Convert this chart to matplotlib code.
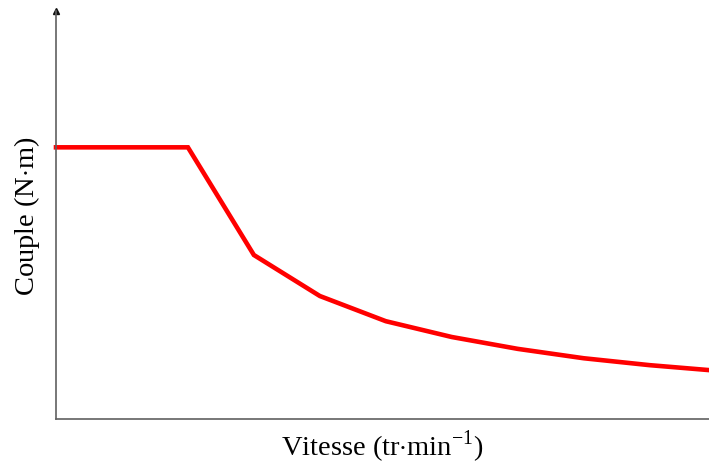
import numpy as np
import matplotlib
matplotlib.use("Agg")
import matplotlib.pyplot as plt

plt.rcParams['font.family'] = ['Liberation Serif', 'DejaVu Serif']
plt.rcParams['mathtext.fontset'] = 'custom'
plt.rcParams['mathtext.rm'] = 'Liberation Serif'

# speed (arbitrary units) vs torque (arbitrary units)
vitesse = [0, 2, 3, 4, 5, 6, 7, 8, 9, 9.9]
couple = [5.5, 5.5, 3.32, 2.49, 1.98, 1.66, 1.42, 1.23, 1.09, 0.99]

W, H = 709, 464
fig = plt.figure(figsize=(W/100, H/100), dpi=100)
ax = fig.add_axes([56/W, (H-420)/H, (W-56)/W, 408/H])

ax.plot(vitesse, couple, color="#ff0000", lw=3.3, solid_joinstyle="miter", clip_on=False)
ax.set_xlim(0, 9.9)
ax.set_ylim(0, 8.26)

for s in ["top", "right"]:
    ax.spines[s].set_visible(False)
for s in ["left", "bottom"]:
    ax.spines[s].set_color("#606060")
    ax.spines[s].set_linewidth(1.2)
ax.set_xticks([]); ax.set_yticks([])
# arrow head on the y axis
ax.plot([0], [1], marker="^", color="#111111", ms=5, transform=ax.transAxes, clip_on=False)

ax.set_xlabel(r"Vitesse (tr$\cdot$min$^{-1}$)", fontsize=20.5, labelpad=6)
ax.set_ylabel(r"Couple (N$\cdot$m)", fontsize=20.5, labelpad=10)

plt.savefig("out.png", dpi=100)
